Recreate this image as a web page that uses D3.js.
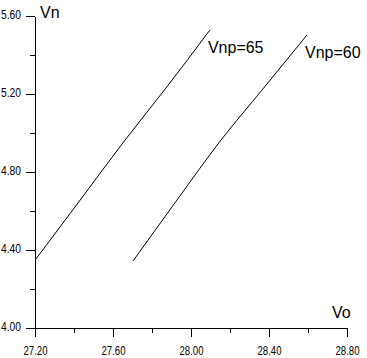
<!DOCTYPE html>
<html>
<head>
<meta charset="utf-8">
<script src="https://cdn.jsdelivr.net/npm/d3@7"></script>
<style>
  body { margin: 0; background: #fff; }
  svg { display: block; }
  .tick text { font-family: "Liberation Sans", Arial, sans-serif; font-size: 13.5px; fill: #000; }
  .lbl { font-family: "Liberation Sans", Arial, sans-serif; font-size: 16px; fill: #000; }
</style>
</head>
<body>
<svg width="367" height="358"></svg>
<script>
// data
var xTicks = [27.2, 27.6, 28.0, 28.4, 28.8];
var xMinor = [27.4, 27.8, 28.2, 28.6];
var yTicks = [4.0, 4.4, 4.8, 5.2, 5.6];
var yMinor = [4.2, 4.6, 5.0, 5.4];

var vo65 = [27.205, 27.436, 27.662, 27.872, 28.097];
var vn65 = [4.354, 4.662, 4.964, 5.231, 5.528];
var vo60 = [27.703, 27.928, 28.154, 28.369, 28.595];
var vn60 = [4.344, 4.656, 4.964, 5.226, 5.503];

var names = ["Vnp=65", "Vnp=60"];

svg = d3.select("svg");

x = d3.scaleLinear().domain([27.2, 28.8]).range([35, 347]);
y = d3.scaleLinear().domain([4.0, 5.6]).range([328, 16]);

// x axis
gx = svg.append("g").attr("transform", "translate(0,328)")
  .call(d3.axisBottom(x).tickValues(xTicks).tickSize(9).tickSizeOuter(0).tickFormat(d3.format(".2f")));
gx.append("g").selectAll("line").data(xMinor).enter().append("line")
  .attr("x1", d => x(d)).attr("x2", d => x(d)).attr("y1", 0).attr("y2", 5).attr("stroke", "#000");
gx.selectAll(".tick text").attr("y", 17)
  .attr("textLength", 24).attr("lengthAdjust", "spacingAndGlyphs");

// y axis
gy = svg.append("g").attr("transform", "translate(35,0)")
  .call(d3.axisLeft(y).tickValues(yTicks).tickSize(9).tickSizeOuter(0).tickFormat(d3.format(".2f")));
gy.append("g").selectAll("line").data(yMinor).enter().append("line")
  .attr("y1", d => y(d)).attr("y2", d => y(d)).attr("x1", 0).attr("x2", -5).attr("stroke", "#000");
gy.selectAll(".tick text").attr("x", -14).attr("dy", "0.2em")
  .attr("textLength", 20).attr("lengthAdjust", "spacingAndGlyphs");

svg.selectAll(".domain, .tick line").attr("stroke", "#000").attr("shape-rendering", "crispEdges");
svg.selectAll("g line").attr("shape-rendering", "crispEdges");

// curves
line = d3.line().x(d => x(d[0])).y(d => y(d[1])).curve(d3.curveMonotoneX);
series = [d3.zip(vo65, vn65), d3.zip(vo60, vn60)];
svg.selectAll(".curve").data(series).enter().append("path")
  .attr("class", "curve")
  .attr("d", line)
  .attr("fill", "none")
  .attr("stroke", "#000")
  .attr("stroke-width", 1);

// curve labels next to last point
svg.selectAll(".cl").data(series).enter().append("text")
  .attr("class", "lbl")
  .attr("x", d => x(d[d.length - 1][0]) - 2)
  .attr("y", d => y(d[d.length - 1][1]) + 23)
  .text((d, i) => names[i]);

// axis titles
svg.append("text").attr("class", "lbl").attr("x", 40).attr("y", 18).text("Vn");
svg.append("text").attr("class", "lbl").attr("x", 332).attr("y", 318).text("Vo");
</script>
</body>
</html>
